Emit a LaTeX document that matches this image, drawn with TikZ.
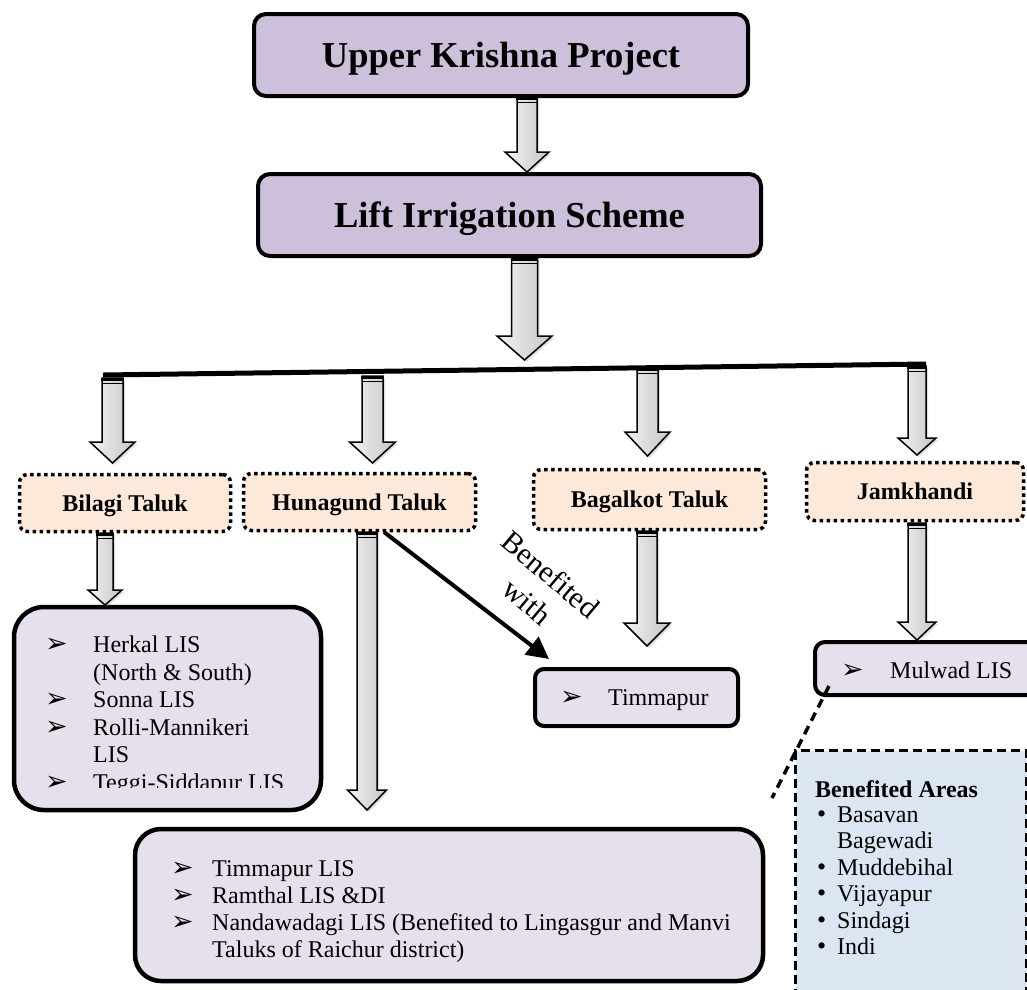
\documentclass[tikz,border=0pt]{standalone}
\usepackage{fontspec}
\setmainfont{Liberation Serif}
\newfontfamily\dejavu{DejaVu Sans}
\usetikzlibrary{calc,shadows,arrows.meta}
\definecolor{lavA}{HTML}{CCC0DA}
\definecolor{lavB}{HTML}{E5E0EC}
\definecolor{peach}{HTML}{FDE9D9}
\definecolor{paleblue}{HTML}{DCE6F2}
\tikzset{
  topbox/.style={draw, line width=4pt, rounded corners=12pt, fill=lavA, inner sep=0pt, text depth=0pt,
    font=\bfseries\fontsize{36.5}{40}\selectfont},
  talukbox/.style={draw, line width=3.5pt, dash pattern=on 3.5pt off 3.5pt, rounded corners=8pt,
    fill=peach, inner sep=0pt, text depth=0pt, font=\bfseries\fontsize{24}{28}\selectfont},
  listbox/.style={draw, line width=4.5pt, fill=lavB, inner sep=0pt},
  benbox/.style={draw, line width=3pt, dash pattern=on 9pt off 5pt, fill=paleblue, inner sep=0pt},
  barrow/.style={draw=black, line width=1.5pt, line join=miter, left color=gray!10, right color=gray!45,
    drop shadow={shadow xshift=2pt, shadow yshift=-2pt, opacity=0.25}},
  listtxt/.style={font=\fontsize{24}{27}\selectfont, inner sep=0pt, anchor=base west},
  bul/.style={font=\dejavu\fontsize{27}{30}\selectfont, inner sep=0pt, anchor=base west},
  dotbul/.style={font=\fontsize{26}{27}\selectfont, inner sep=0pt, anchor=base west},
}
\newcommand\blockarr[5]{%
  \path[barrow] let \p1=(#1), \p2=(#2) in
    (\x1-#3,\y1) -- (\x1+#3,\y1) -- (\x1+#3,\y2+#5) -- (\x1+#4,\y2+#5) -- (\x1,\y2)
    -- (\x1-#4,\y2+#5) -- (\x1-#3,\y2+#5) -- cycle;
  \fill let \p1=(#1) in (\x1-#3-0.75pt,\y1) rectangle (\x1+#3+0.75pt,\y1-3pt);
  \draw[line width=0.9pt] let \p1=(#1) in (\x1-#3,\y1-5pt) -- (\x1+#3,\y1-5pt);
}
\begin{document}
\begin{tikzpicture}[x=1pt,y=-1pt]
\useasboundingbox (0,0) rectangle (1027,989);
\clip (0,0) rectangle (1027,989);

% top boxes
\node[topbox, minimum width=494pt, minimum height=82pt] (ukp) at (501,55) {Upper Krishna Project};
\node[topbox, minimum width=503pt, minimum height=82pt] (lis) at (509.5,215) {Lift Irrigation Scheme};

% distribution line
\coordinate (hl) at (103,375);
\coordinate (hr) at (926,364);
\draw[line width=5pt] (hl) -- (hr);

% taluk boxes
\node[talukbox, minimum width=211pt, minimum height=57pt] (bilagi) at (125,503) {Bilagi Taluk};
\node[talukbox, minimum width=232pt, minimum height=57pt] (hunagund) at (359.5,502) {Hunagund Taluk};
\node[talukbox, minimum width=232pt, minimum height=60pt] (bagalkot) at (649.5,499.5) {Bagalkot Taluk};
\node[talukbox, minimum width=217pt, minimum height=58pt] (jamkhandi) at (915,491.5) {Jamkhandi};

% list boxes
\node[listbox, rounded corners=30pt, minimum width=307pt, minimum height=203pt] (bilagiL) at (167.5,708.5) {};
\node[listbox, rounded corners=26pt, minimum width=628pt, minimum height=152pt] (hunL) at (449,905) {};
\node[listbox, line width=4pt, rounded corners=9pt, minimum width=203pt, minimum height=57pt] (timm) at (636.5,697.5) {};
\node[listbox, line width=4pt, rounded corners=10pt, minimum width=230pt, minimum height=53pt] (mulwad) at (930,668.5) {};
\node[benbox, anchor=north west, minimum width=231pt, minimum height=280pt] (ben) at (794,749) {};

% block arrows
\coordinate (a1s) at (527,97);    \coordinate (a1e) at (527,172);
\coordinate (a2s) at (524.5,258); \coordinate (a2e) at (524.5,360);
\coordinate (b1s) at (112.5,378); \coordinate (b1e) at (112.5,463);
\coordinate (b2s) at (372.5,376); \coordinate (b2e) at (372.5,463);
\coordinate (b3s) at (647.5,368); \coordinate (b3e) at (647.5,456);
\coordinate (b4s) at (917,366);   \coordinate (b4e) at (917,455);
\coordinate (c1s) at (105,533);   \coordinate (c1e) at (105,605);
\coordinate (c2s) at (367,532);   \coordinate (c2e) at (367,810);
\coordinate (c3s) at (647,531);   \coordinate (c3e) at (647,646);
\coordinate (c4s) at (917,523);   \coordinate (c4e) at (917,640);
\blockarr{a1s}{a1e}{10pt}{22pt}{20pt}
\blockarr{a2s}{a2e}{13pt}{27.5pt}{24pt}
\blockarr{b1s}{b1e}{10.5pt}{22.5pt}{21pt}
\blockarr{b2s}{b2e}{10.5pt}{23pt}{21pt}
\blockarr{b3s}{b3e}{10.5pt}{22.5pt}{24pt}
\blockarr{b4s}{b4e}{9pt}{19pt}{17pt}
\blockarr{c1s}{c1e}{8pt}{17pt}{15pt}
\blockarr{c2s}{c2e}{10pt}{19.5pt}{20pt}
\blockarr{c3s}{c3e}{10pt}{23pt}{23pt}
\blockarr{c4s}{c4e}{9pt}{19pt}{18pt}

% benefited-with arrow
\coordinate (bw1) at (384,532);
\coordinate (bw2) at (549,659);
\draw[line width=4pt, -{Triangle[length=22pt,width=22pt]}] (bw1) -- (bw2);
\node[rotate=-40, align=center, font=\fontsize{30}{36}\selectfont, inner sep=0pt] (bwtxt) at (539,588) {Benefited\\with};

% callout
\coordinate (co1) at (829,686);
\coordinate (co2) at (772,798);
\draw[line width=3.5pt, dash pattern=on 9pt off 6pt] (co1) -- (co2);

% Bilagi list
\node[bul] (lb1) at (45,652) {➢}; \node[listtxt] (lt1) at (93,652) {Herkal LIS};
\node[listtxt] (lt2) at (93,680) {(North \& South)};
\node[bul] (lb3) at (45,707) {➢}; \node[listtxt] (lt3) at (93,707) {Sonna LIS};
\node[bul] (lb4) at (45,735) {➢}; \node[listtxt] (lt4) at (93,735) {Rolli-Mannikeri};
\node[listtxt] (lt5) at (93,762) {LIS};
\begin{scope}
\clip (0,600) rectangle (330,787);
\node[bul] (lb6) at (45,790) {➢}; \node[listtxt] (lt6) at (93,790) {Teggi-Siddapur LIS};
\end{scope}

% Hunagund list
\node[bul] (hb1) at (171,876) {➢}; \node[listtxt] (ht1) at (212,876) {Timmapur LIS};
\node[bul] (hb2) at (171,903) {➢}; \node[listtxt] (ht2) at (212,903) {Ramthal LIS \&DI};
\node[bul] (hb3) at (171,930) {➢}; \node[listtxt] (ht3) at (212,930) {Nandawadagi LIS (Benefited to Lingasgur and Manvi};
\node[listtxt] (ht4) at (212,957) {Taluks of Raichur district)};

% Timmapur and Mulwad
\node[bul] (tb1) at (560,705) {➢}; \node[listtxt] (tt1) at (608,705) {Timmapur};
\node[bul] (mb1) at (841,678) {➢}; \node[listtxt] (mt1) at (890,678) {Mulwad LIS};

% Benefited areas
\node[listtxt, font=\bfseries\fontsize{24}{27}\selectfont] (bah) at (815,797) {Benefited Areas};
\node[dotbul] (bd1) at (817,822) {•}; \node[listtxt] (ba1) at (837,822) {Basavan};
\node[listtxt] (ba2) at (837,848.5) {Bagewadi};
\node[dotbul] (bd3) at (817,875) {•}; \node[listtxt] (ba3) at (837,875) {Muddebihal};
\node[dotbul] (bd4) at (817,901.5) {•}; \node[listtxt] (ba4) at (837,901.5) {Vijayapur};
\node[dotbul] (bd5) at (817,928) {•}; \node[listtxt] (ba5) at (837,928) {Sindagi};
\node[dotbul] (bd6) at (817,954.5) {•}; \node[listtxt] (ba6) at (837,954.5) {Indi};
\end{tikzpicture}
\end{document}
